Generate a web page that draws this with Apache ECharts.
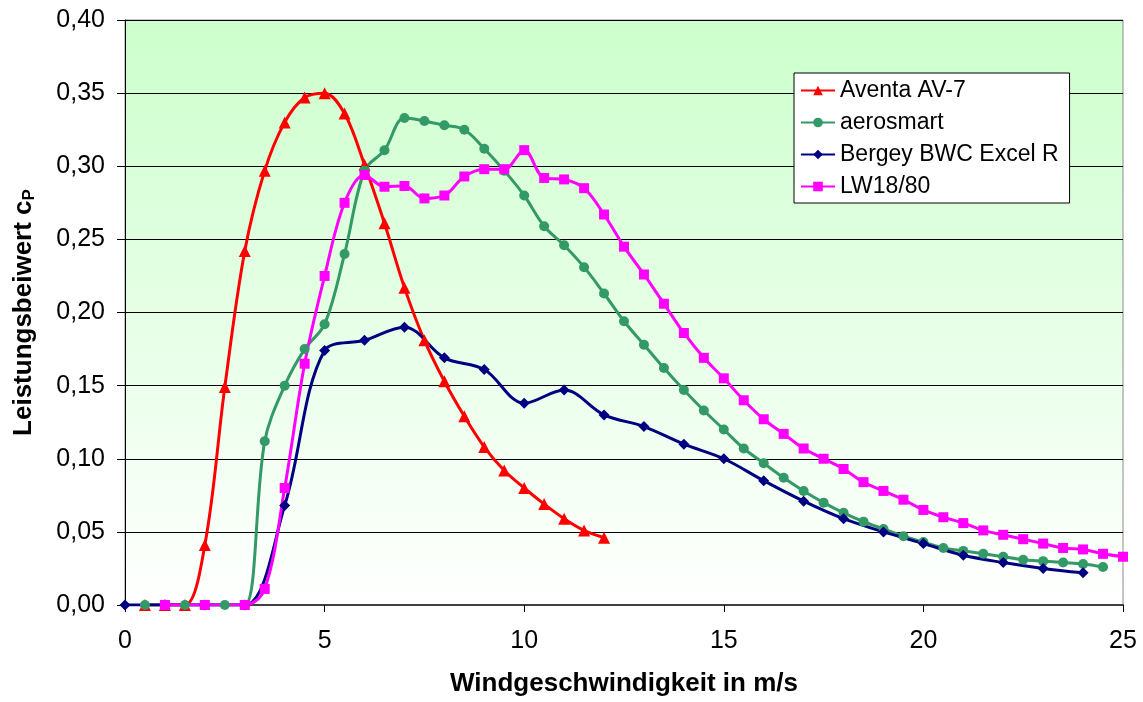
<!DOCTYPE html>
<html>
<head>
<meta charset="utf-8">
<script src="https://cdn.jsdelivr.net/npm/echarts@6/dist/echarts.min.js"></script>
<style>
  html, body { margin: 0; padding: 0; background: #fff; }
  #chart { width: 1143px; height: 702px; }
</style>
</head>
<body>
<div id="chart"></div>
<script>
// Windgeschwindigkeit (m/s) und Leistungsbeiwert cP je Anlage
var seriesNames = ['Aventa AV-7', 'aerosmart', 'Bergey BWC Excel R', 'LW18/80'];

var windAventa = [0.5, 1, 1.5, 2, 2.5, 3, 3.5, 4, 4.5, 5, 5.5, 6, 6.5, 7, 7.5, 8, 8.5, 9, 9.5, 10, 10.5, 11, 11.5, 12];
var cpAventa = [0, 0, 0, 0.041, 0.149, 0.242, 0.297, 0.330, 0.347, 0.350, 0.336, 0.301, 0.261, 0.217, 0.181, 0.153, 0.129, 0.108, 0.092, 0.080, 0.069, 0.059, 0.051, 0.046];

var windAero = [0.5, 1, 1.5, 2, 2.5, 3, 3.5, 4, 4.5, 5, 5.5, 6, 6.5, 7, 7.5, 8, 8.5, 9, 9.5, 10, 10.5, 11, 11.5, 12, 12.5, 13, 13.5, 14, 14.5, 15, 15.5, 16, 16.5, 17, 17.5, 18, 18.5, 19, 19.5, 20, 20.5, 21, 21.5, 22, 22.5, 23, 23.5, 24, 24.5];
var cpAero = [0, 0, 0, 0, 0, 0, 0.112, 0.150, 0.175, 0.192, 0.240, 0.297, 0.311, 0.333, 0.331, 0.328, 0.325, 0.312, 0.297, 0.280, 0.259, 0.246, 0.231, 0.213, 0.194, 0.178, 0.162, 0.147, 0.133, 0.120, 0.107, 0.097, 0.087, 0.078, 0.070, 0.063, 0.057, 0.052, 0.047, 0.043, 0.039, 0.037, 0.035, 0.033, 0.031, 0.030, 0.029, 0.028, 0.026];

var windBergey = [0, 1, 2, 3, 4, 5, 6, 7, 8, 9, 10, 11, 12, 13, 14, 15, 16, 17, 18, 19, 20, 21, 22, 23, 24];
var cpBergey = [0, 0, 0, 0, 0.068, 0.174, 0.181, 0.190, 0.169, 0.161, 0.138, 0.147, 0.130, 0.122, 0.110, 0.100, 0.085, 0.071, 0.059, 0.050, 0.042, 0.034, 0.029, 0.025, 0.022];

var windLW = [1, 2, 3, 3.5, 4, 4.5, 5, 5.5, 6, 6.5, 7, 7.5, 8, 8.5, 9, 9.5, 10, 10.5, 11, 11.5, 12, 12.5, 13, 13.5, 14, 14.5, 15, 15.5, 16, 16.5, 17, 17.5, 18, 18.5, 19, 19.5, 20, 20.5, 21, 21.5, 22, 22.5, 23, 23.5, 24, 24.5, 25];
var cpLW = [0, 0, 0, 0.011, 0.080, 0.165, 0.225, 0.275, 0.294, 0.286, 0.2865, 0.278, 0.280, 0.293, 0.298, 0.298, 0.311, 0.292, 0.291, 0.285, 0.267, 0.245, 0.226, 0.206, 0.186, 0.169, 0.155, 0.140, 0.127, 0.117, 0.107, 0.100, 0.093, 0.084, 0.078, 0.072, 0.065, 0.060, 0.056, 0.051, 0.048, 0.045, 0.042, 0.039, 0.038, 0.035, 0.033];

function pairs(xs, ys) {
  return xs.map(function (x, i) { return [x, ys[i]]; });
}

var font = '"Liberation Sans", Arial, sans-serif';

var myChart = echarts.init(document.getElementById('chart'));

function makeSeries(name, data, color, symbol, size) {
  return {
    name: name,
    type: 'line',
    data: data,
    smooth: 0.35,
    symbol: symbol,
    symbolSize: size,
    lineStyle: { color: color, width: 3 },
    itemStyle: { color: color },
    emphasis: { disabled: true }
  };
}

var option = {
  backgroundColor: '#ffffff',
  animation: false,
  textStyle: { fontFamily: font },
  grid: {
    left: 125,
    right: 20,
    top: 20,
    bottom: 97,
    show: true,
    borderColor: '#8c8c8c',
    borderWidth: 1,
    backgroundColor: {
      type: 'linear', x: 0, y: 0, x2: 0, y2: 1,
      colorStops: [
        { offset: 0, color: '#ccffcc' },
        { offset: 1, color: '#ffffff' }
      ]
    }
  },
  legend: {
    orient: 'vertical',
    left: 794,
    top: 73,
    padding: [6, 11, 5, 6],
    itemWidth: 34,
    itemHeight: 12,
    itemGap: 9,
    backgroundColor: '#ffffff',
    borderColor: '#000000',
    borderWidth: 1,
    textStyle: { fontFamily: font, fontSize: 23, color: '#000' },
    data: seriesNames
  },
  xAxis: {
    type: 'value',
    min: 0,
    max: 25,
    interval: 5,
    name: 'Windgeschwindigkeit in m/s',
    nameLocation: 'middle',
    nameGap: 66,
    nameTextStyle: { fontFamily: font, fontSize: 26, fontWeight: 'bold', color: '#000' },
    axisLine: { show: true, onZero: false, lineStyle: { color: '#404040', width: 2 } },
    axisTick: { show: true, length: 7, lineStyle: { color: '#000' } },
    axisLabel: { fontFamily: font, fontSize: 25, color: '#000', margin: 24 },
    splitLine: { show: false }
  },
  yAxis: {
    type: 'value',
    min: 0,
    max: 0.4,
    interval: 0.05,
    name: '{a|Leistungsbeiwert c}{b|P}',
    nameLocation: 'middle',
    nameRotate: 90,
    nameGap: 86,
    nameTextStyle: {
      color: '#000',
      rich: {
        a: { fontFamily: font, fontSize: 26, fontWeight: 'bold', color: '#000', lineHeight: 30 },
        b: { fontFamily: font, fontSize: 17, fontWeight: 'bold', color: '#000', lineHeight: 30, padding: [10, 0, 0, 0] }
      }
    },
    axisLine: { show: true, lineStyle: { color: '#000', width: 1 } },
    axisTick: { show: true, length: 8, lineStyle: { color: '#000' } },
    axisLabel: {
      fontFamily: font, fontSize: 25, color: '#000', margin: 20,
      formatter: function (v) { return v.toFixed(2).replace('.', ','); }
    },
    splitLine: { show: true, lineStyle: { color: '#000', width: 1 } }
  },
  series: [
    makeSeries(seriesNames[0], pairs(windAventa, cpAventa), '#ff0000', 'triangle', 12),
    makeSeries(seriesNames[1], pairs(windAero, cpAero), '#339966', 'circle', 10),
    makeSeries(seriesNames[2], pairs(windBergey, cpBergey), '#000080', 'diamond', 11),
    makeSeries(seriesNames[3], pairs(windLW, cpLW), '#ff00ff', 'rect', 10)
  ]
};

myChart.setOption(option);
</script>
</body>
</html>
